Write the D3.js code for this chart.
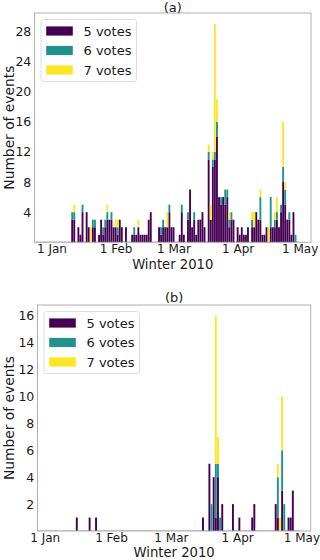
<!DOCTYPE html>
<html>
<head>
<meta charset="utf-8">
<script src="https://cdn.jsdelivr.net/npm/d3@7/dist/d3.min.js"></script>
<style>
	body { margin: 0; background: #fff; }
	svg { display: block; }
	svg text { font-family: "DejaVu Sans", sans-serif; }
</style>
</head>
<body>
<svg id="chart" width="320" height="560"></svg>
<script>
const seriesNames = ["5 votes", "6 votes", "7 votes"];
const seriesColors = ["#440154", "#21918c", "#fde725"];
const monthTicks = ["01-01", "02-01", "03-01", "04-01", "05-01"];

// panel (a): all events
const daysA = [
	"01-11", "01-12", "01-14", "01-15", "01-16", "01-18", "01-19", "01-20", "01-21", "01-22",
	"01-24", "01-25", "01-26", "01-27", "01-28", "01-29", "01-30", "01-31", "02-01", "02-02",
	"02-03", "02-04", "02-06", "02-09", "02-10", "02-11", "02-12", "02-13", "02-14", "02-15",
	"02-16", "02-17", "02-18", "02-22", "02-23", "02-24", "02-25", "02-26", "02-27", "02-28",
	"03-01", "03-04", "03-05", "03-06", "03-08", "03-09", "03-10", "03-11", "03-12", "03-13",
	"03-14", "03-15", "03-16", "03-18", "03-19", "03-20", "03-21", "03-22", "03-23", "03-24",
	"03-25", "03-26", "03-27", "03-28", "03-29", "03-30", "04-01", "04-02", "04-03", "04-04",
	"04-05", "04-06", "04-08", "04-09", "04-10", "04-11", "04-12", "04-13", "04-14", "04-15",
	"04-16", "04-17", "04-18", "04-19", "04-20", "04-21", "04-22", "04-23", "04-24", "04-25",
	"04-26", "04-27", "04-28", "04-29"
];
const fiveA = [
	3, 3, 2, 1, 4, 4, 2, 0, 2, 2,
	1, 3, 1, 2, 3, 3, 3, 2, 2, 1,
	3, 2, 2, 1, 1, 1, 2, 1, 1, 1,
	1, 3, 4, 2, 1, 2, 2, 2, 4, 2,
	2, 1, 4, 1, 3, 7, 2, 3, 1, 3,
	3, 4, 2, 11, 3, 10, 11, 14, 6, 5,
	6, 5, 6, 2, 3, 3, 2, 1, 2, 1,
	1, 2, 2, 2, 4, 3, 3, 1, 1, 2,
	0, 2, 2, 2, 3, 2, 4, 8, 5, 3,
	3, 1, 4, 0
];
const sixA = [
	1, 1, 0, 0, 1, 0, 0, 0, 1, 1,
	0, 0, 1, 1, 1, 0, 1, 0, 0, 1,
	0, 0, 0, 0, 1, 0, 0, 0, 0, 0,
	0, 0, 0, 0, 1, 1, 0, 0, 1, 0,
	0, 0, 1, 0, 1, 0, 0, 1, 0, 0,
	0, 0, 0, 1, 0, 1, 1, 2, 0, 1,
	0, 2, 1, 1, 1, 0, 0, 0, 0, 0,
	0, 0, 1, 0, 0, 0, 3, 0, 0, 0,
	0, 4, 0, 1, 1, 0, 1, 2, 2, 0,
	1, 0, 0, 1
];
const sevenA = [
	0, 1, 0, 0, 0, 0, 0, 2, 0, 0,
	0, 0, 0, 0, 1, 0, 0, 0, 1, 1,
	0, 0, 0, 0, 0, 0, 1, 0, 0, 0,
	0, 0, 0, 0, 0, 0, 0, 2, 0, 0,
	0, 0, 0, 0, 0, 0, 0, 0, 0, 0,
	0, 0, 0, 1, 2, 1, 17, 3, 0, 0,
	0, 0, 0, 1, 0, 0, 0, 0, 0, 0,
	0, 0, 1, 2, 0, 0, 1, 0, 0, 0,
	2, 0, 0, 1, 2, 0, 0, 6, 1, 0,
	0, 0, 0, 0
];
const yTicksA = [4, 8, 12, 16, 20, 24, 28];

// panel (b): subset of events
const daysB = [
	"01-16", "01-22", "01-25", "03-16", "03-19", "03-20", "03-21", "03-22", "03-23", "03-24",
	"03-25", "03-30", "04-02", "04-08", "04-09", "04-19", "04-20", "04-21", "04-22", "04-23",
	"04-25", "04-26", "04-27"
];
const fiveB = [1, 1, 1, 1, 5, 0, 4, 1, 4, 0, 2, 2, 1, 1, 2, 2, 1, 0, 3, 0, 1, 1, 3];
const sixB = [0, 0, 0, 0, 0, 2, 0, 4, 1, 1, 0, 0, 0, 0, 0, 0, 3, 0, 3, 2, 0, 0, 0];
const sevenB = [0, 0, 0, 0, 0, 0, 0, 11, 2, 0, 0, 0, 0, 0, 0, 0, 1, 1, 4, 0, 0, 0, 0];
const yTicksB = [2, 4, 6, 8, 10, 12, 14, 16];

const parseDay = (s) => d3.utcParse("%Y-%m-%d")("2010-" + s);

const panels = [
	{
		title: "(a)", days: daysA, five: fiveA, six: sixA, seven: sevenA,
		yTicks: yTicksA, yMax: 30.45,
		xDomain: ["2009-12-23T18:43:00Z", "2010-05-06T11:31:00Z"],
		left: 34.5, right: 311, top: 13, bottom: 242.3,
		titleY: 12.2, xLabelY: 268.6
	},
	{
		title: "(b)", days: daysB, five: fiveB, six: sixB, seven: sevenB,
		yTicks: yTicksB, yMax: 16.8,
		xDomain: ["2009-12-28T15:07:00Z", "2010-05-05T08:38:00Z"],
		left: 37.5, right: 310.7, top: 305, bottom: 531,
		titleY: 302.2, xLabelY: 556.9
	}
];

const svg = d3.select("#chart");

function drawPanel(p) {
	const g = svg.append("g");

	const x = d3.scaleUtc()
		.domain(p.xDomain.map((s) => d3.isoParse(s)))
		.range([p.left, p.right]);
	const y = d3.scaleLinear().domain([0, p.yMax]).range([p.bottom, p.top]);

	const rows = p.days.map((d, i) => ({
		date: parseDay(d),
		five: p.five[i],
		six: p.six[i],
		seven: p.seven[i],
	}));
	const layers = d3.stack().keys(["five", "six", "seven"])(rows);

	const t0 = parseDay("01-01");
	const dayW = x(d3.utcDay.offset(t0, 1)) - x(t0);

	// zero-height bars show up as a dotted baseline
	g.append("line")
		.attr("x1", p.left + 1)
		.attr("x2", x(parseDay("05-01")))
		.attr("y1", y(0) - 0.5)
		.attr("y2", y(0) - 0.5)
		.attr("stroke", "#777")
		.attr("stroke-width", 0.8)
		.attr("stroke-dasharray", "1,1");

	g.selectAll("g.layer")
		.data(layers)
		.join("g")
		.attr("class", "layer")
		.attr("fill", (d, i) => seriesColors[i])
		.selectAll("rect")
		.data((d) => d.filter((v) => v[1] > v[0]))
		.join("rect")
		.attr("x", (d) => x(d.data.date) - dayW * 0.45)
		.attr("width", dayW * 0.9)
		.attr("y", (d) => y(d[1]))
		.attr("height", (d) => y(d[0]) - y(d[1]));

	// frame
	g.append("rect")
		.attr("x", p.left)
		.attr("y", p.top)
		.attr("width", p.right - p.left)
		.attr("height", p.bottom - p.top)
		.attr("fill", "none")
		.attr("stroke", "#b0b0b0")
		.attr("stroke-width", 1);

	const xAxis = g.append("g")
		.attr("transform", `translate(0,${p.bottom})`)
		.call(d3.axisBottom(x)
			.tickValues(monthTicks.map(parseDay))
			.tickFormat(d3.utcFormat("%-d %b"))
			.tickSize(0)
			.tickPadding(2.3));
	xAxis.select(".domain").remove();
	xAxis.selectAll("text").attr("font-size", 12).attr("fill", "#1a1a1a");

	const yAxis = g.append("g")
		.attr("transform", `translate(${p.left},0)`)
		.call(d3.axisLeft(y).tickValues(p.yTicks).tickSize(0).tickPadding(3.2));
	yAxis.select(".domain").remove();
	yAxis.selectAll("text").attr("font-size", 12.5).attr("fill", "#1a1a1a");

	const midX = (p.left + p.right) / 2;
	g.append("text")
		.attr("x", midX)
		.attr("y", p.titleY)
		.attr("text-anchor", "middle")
		.attr("font-size", 13)
		.attr("fill", "#1a1a1a")
		.text(p.title);

	g.append("text")
		.attr("x", midX)
		.attr("y", p.xLabelY)
		.attr("text-anchor", "middle")
		.attr("font-size", 13.2)
		.attr("fill", "#1a1a1a")
		.text("Winter 2010");

	g.append("text")
		.attr("transform", `translate(14,${(p.top + p.bottom) / 2}) rotate(-90)`)
		.attr("text-anchor", "middle")
		.attr("font-size", 13.8)
		.attr("fill", "#1a1a1a")
		.text("Number of events");

	// legend
	const legend = g.append("g")
		.attr("transform", `translate(${p.left + 6.5},${p.top + 6.5})`);
	legend.append("rect")
		.attr("width", 95.5)
		.attr("height", 62)
		.attr("rx", 2.5)
		.attr("fill", "#fff")
		.attr("fill-opacity", 0.8)
		.attr("stroke", "#d6d6d6")
		.attr("stroke-width", 0.8);
	const items = legend.selectAll("g.item")
		.data(seriesNames)
		.join("g")
		.attr("class", "item")
		.attr("transform", (d, i) => `translate(0,${11.5 + i * 19.5})`);
	items.append("rect")
		.attr("x", 5.2)
		.attr("y", -4.6)
		.attr("width", 26.6)
		.attr("height", 9.2)
		.attr("fill", (d, i) => seriesColors[i]);
	items.append("text")
		.attr("x", 42.5)
		.attr("dy", "0.36em")
		.attr("font-size", 13)
		.attr("fill", "#1a1a1a")
		.text((d) => d);
}

panels.forEach(drawPanel);
</script>
</body>
</html>
